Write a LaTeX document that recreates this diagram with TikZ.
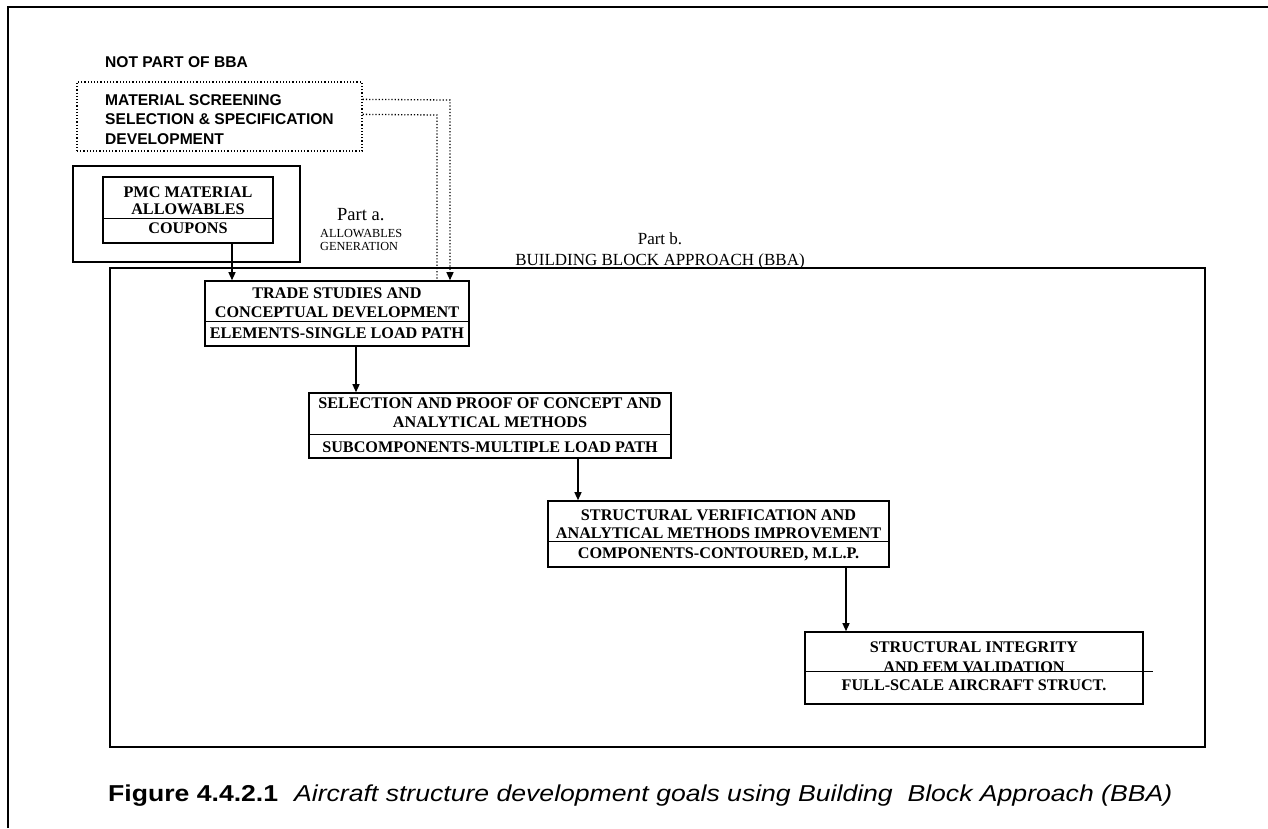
\documentclass[tikz,border=0pt]{standalone}
\usepackage{fontspec}
\usepackage{graphicx}
\setmainfont{Liberation Serif}
\newfontfamily\arial{Liberation Sans}
\usetikzlibrary{arrows.meta}
\begin{document}
\begin{tikzpicture}[x=1pt,y=-1pt,
  sizebox/.style 2 args={draw, line width=1.6pt, minimum width=#1, minimum height=#2, inner sep=0pt},
  btxt/.style={anchor=base, inner sep=0pt, font=\bfseries\fontsize{16.2}{19}\selectfont},
  stxt/.style={anchor=base west, inner sep=0pt, font=\arial\bfseries\fontsize{15.6}{18}\selectfont},
  divline/.style={line width=1.4pt},
  arr/.style={line width=1.3pt, -{Triangle[length=8pt,width=7pt]}},
  dotline/.style={line width=1.3pt, dash pattern=on 1.2pt off 2pt}
]
\useasboundingbox (0,0) rectangle (1268,828);
% outer frame
\draw[line width=2.2pt] (8,828) -- (8,7) -- (1268,7);

% not part of BBA
\node[stxt] (notbba) at (105,67.5) {NOT PART OF BBA};
\node[sizebox={285pt}{69pt}, line width=1.3pt, dash pattern=on 1.2pt off 2pt] (msbox) at (219.5,116.5) {};
\node[stxt] (ms1) at (105,105.5) {MATERIAL SCREENING};
\node[stxt] (ms2) at (105,124) {SELECTION \& SPECIFICATION};
\node[stxt] (ms3) at (105,144) {DEVELOPMENT};

% PMC
\node[sizebox={227pt}{96pt}, line width=1.8pt] (pmcframe) at (186.5,214) {};
\node[sizebox={170pt}{66pt}] (pmcin) at (188,210) {};
\draw[divline] ([yshift=-42pt]pmcin.north west) -- ([yshift=-42pt]pmcin.north east);
\node[btxt] (p1) at (188,197.5) {PMC MATERIAL};
\node[btxt] (p2) at (188,214.5) {ALLOWABLES};
\node[btxt] (p3) at (188,233.5) {COUPONS};

% part a
\node[anchor=base west, inner sep=0pt, font=\fontsize{18.5}{20}\selectfont] (parta) at (337,220) {Part a.};
\node[anchor=base west, inner sep=0pt, font=\fontsize{12.3}{13}\selectfont] (pa1) at (320,237) {ALLOWABLES};
\node[anchor=base west, inner sep=0pt, font=\fontsize{12.3}{13}\selectfont] (pa2) at (320,250) {GENERATION};

% part b
\node[anchor=base, inner sep=0pt, font=\fontsize{17}{20}\selectfont] (partb) at (660,244.5) {Part b.};
\node[anchor=base, inner sep=0pt, font=\fontsize{17}{20}\selectfont] (pb1) at (660,265.5) {BUILDING BLOCK APPROACH (BBA)};

% BBA frame
\node[sizebox={1095pt}{479pt}, line width=1.5pt] (bba) at (657.5,507.5) {};

% trade studies
\node[sizebox={264pt}{65pt}, fill=white] (trade) at (337,313.5) {};
\draw[divline] ([yshift=-41pt]trade.north west) -- ([yshift=-41pt]trade.north east);
\node[btxt] (t1) at (337,298.5) {TRADE STUDIES AND};
\node[btxt] (t2) at (337,317.5) {CONCEPTUAL DEVELOPMENT};
\node[btxt] (t3) at (337,338.5) {ELEMENTS-SINGLE LOAD PATH};

% selection
\node[sizebox={362pt}{65pt}] (sel) at (490,425.5) {};
\draw[divline] ([yshift=-42pt]sel.north west) -- ([yshift=-42pt]sel.north east);
\node[btxt] (s1) at (490,408.5) {SELECTION AND PROOF OF CONCEPT AND};
\node[btxt] (s2) at (490,427.5) {ANALYTICAL METHODS};
\node[btxt] (s3) at (490,452) {SUBCOMPONENTS-MULTIPLE LOAD PATH};

% structural verification
\node[sizebox={341pt}{66pt}] (sv) at (718.5,534) {};
\draw[divline] ([yshift=-41pt]sv.north west) -- ([yshift=-41pt]sv.north east);
\node[btxt] (v1) at (718.5,520) {STRUCTURAL VERIFICATION AND};
\node[btxt] (v2) at (718.5,538) {ANALYTICAL METHODS IMPROVEMENT};
\node[btxt] (v3) at (718.5,558) {COMPONENTS-CONTOURED, M.L.P.};

% structural integrity
\node[sizebox={338pt}{72pt}] (si) at (974,668) {};
\draw[divline] ([yshift=-40pt]si.north west) -- ([yshift=-40pt,xshift=9pt]si.north east);
\node[btxt] (i1) at (974,652.5) {STRUCTURAL INTEGRITY};
\node[btxt] (i2) at (974,672) {AND FEM VALIDATION};
\node[btxt] (i3) at (974,690.5) {FULL-SCALE AIRCRAFT STRUCT.};

% solid arrows
\draw[arr] ([xshift=44pt]pmcin.south) -- ([xshift=44pt]pmcin.south |- trade.north);
\draw[arr] ([xshift=19pt]trade.south) -- ([xshift=19pt]trade.south |- sel.north);
\draw[arr] ([xshift=88pt]sel.south) -- ([xshift=88pt]sel.south |- sv.north);
\draw[arr] ([xshift=127.5pt]sv.south) -- ([xshift=127.5pt]sv.south |- si.north);

% dotted connectors
\coordinate (d1) at (450,100);
\coordinate (d2) at (437,115);
\draw[dotline, -{Triangle[length=8pt,width=7pt]}] ([yshift=-18pt]msbox.north east) -- (d1) -- (d1 |- trade.north);
\draw[dotline] ([yshift=-33pt]msbox.north east) -- (d2) -- (d2 |- trade.north);

% caption
\node[anchor=base west, inner sep=0pt] (cap) at (108,801) {\resizebox{1064pt}{\height}{\arial\fontsize{23}{26}\selectfont\textbf{Figure 4.4.2.1}\hspace{0.6em}\textit{Aircraft structure development goals using Building\ \ Block Approach (BBA)}}};
\end{tikzpicture}
\end{document}
